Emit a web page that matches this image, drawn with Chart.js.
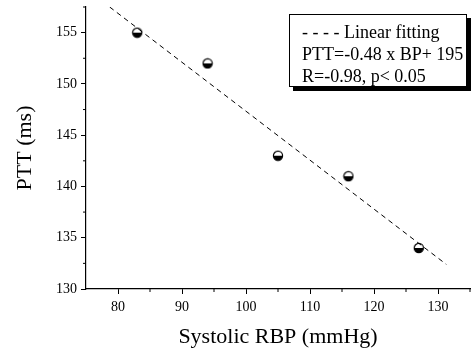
<!DOCTYPE html>
<html>
<head>
<meta charset="utf-8">
<script src="https://cdn.jsdelivr.net/npm/chart.js@4/dist/chart.umd.min.js"></script>
<style>
  html, body { margin: 0; padding: 0; background: #fff; overflow: hidden; }
  #wrap { position: relative; width: 471px; height: 352px; }
  #legendBox {
    position: absolute; left: 289px; top: 14px; width: 178px; height: 73px;
    border: 1px solid #000; background: #fff; box-shadow: 4px 4px 0 #000;
    font-family: 'Liberation Serif', 'Times New Roman', serif; font-size: 18px;
    color: #000; box-sizing: border-box; padding: 6px 0 0 12px; line-height: 22px;
    white-space: nowrap;
  }
</style>
</head>
<body>
<div id="wrap">
  <canvas id="fitChart" width="471" height="352"></canvas>
  <div id="legendBox">
    <div>- - - - Linear fitting</div>
    <div>PTT=-0.48 x BP+ 195</div>
    <div>R=-0.98, p&lt; 0.05</div>
  </div>
</div>
<script>
// measured points
const bpValues = [83, 94, 105, 116, 127];
const pttValues = [155, 152, 143, 141, 134];

// fitted line end points
const fitBp = [78.7, 131.3];
const fitPtt = [157.5, 132.4];

// axis ticks
const xMajorTicks = [80, 90, 100, 110, 120, 130];
const xMinorTicks = [85, 95, 105, 115, 125, 135];
const yMajorTicks = [130, 135, 140, 145, 150, 155];
const yMinorTicks = [132.5, 137.5, 142.5, 147.5, 152.5, 157.5];

const serif = "'Liberation Serif', 'Times New Roman', serif";

// half filled circle marker (white top, black bottom)
function halfMarker() {
    const c = document.createElement('canvas');
    c.width = 12; c.height = 12;
    const g = c.getContext('2d');
    g.beginPath();
    g.arc(6, 6, 4.6, Math.PI, 2 * Math.PI);
    g.fillStyle = '#fff';
    g.fill();
    g.beginPath();
    g.arc(6, 6, 4.6, 0, Math.PI);
    g.fillStyle = '#000';
    g.fill();
    g.beginPath();
    g.arc(6, 6, 4.6, 0, 2 * Math.PI);
    g.lineWidth = 1.2;
    g.strokeStyle = '#000';
    g.stroke();
    return c;
}

// short minor ticks drawn on the library scales
const minorTicks = {
    id: 'minorTicks',
    afterDraw(chart) {
        const ctx = chart.ctx;
        const xs = chart.scales.x, ys = chart.scales.y;
        ctx.save();
        ctx.strokeStyle = '#000';
        ctx.lineWidth = 1;
        xMinorTicks.forEach(v => {
            const px = xs.getPixelForValue(v);
            ctx.beginPath();
            ctx.moveTo(px, xs.top);
            ctx.lineTo(px, xs.top + 3);
            ctx.stroke();
        });
        yMinorTicks.forEach(v => {
            const py = ys.getPixelForValue(v);
            ctx.beginPath();
            ctx.moveTo(ys.right, py);
            ctx.lineTo(ys.right - 3, py);
            ctx.stroke();
        });
        ctx.restore();
    }
};

const marker = halfMarker();

new Chart(document.getElementById('fitChart'), {
    type: 'scatter',
    data: {
        datasets: [{
            label: 'Linear fitting',
            data: fitBp.map((x, i) => ({ x: x, y: fitPtt[i] })),
            showLine: true,
            borderColor: '#000',
            borderWidth: 1,
            borderDash: [5, 4],
            pointRadius: 0,
        }, {
            label: 'PTT',
            data: bpValues.map((x, i) => ({ x: x, y: pttValues[i] })),
            pointStyle: marker,
            pointRadius: 5,
        }],
    },
    options: {
        responsive: false,
        animation: false,
        layout: { autoPadding: false, padding: { top: 7, right: 1 } },
        plugins: { legend: { display: false }, tooltip: { enabled: false } },
        scales: {
            x: {
                type: 'linear',
                min: 75,
                max: 135,
                afterBuildTicks: s => { s.ticks = xMajorTicks.map(v => ({ value: v })); },
                afterFit: s => { s.height = 63; s.paddingLeft = 0; s.paddingRight = 0; },
                grid: { drawOnChartArea: false, tickLength: 5, color: '#000', tickColor: '#000' },
                border: { color: '#000', width: 1.2 },
                ticks: { color: '#000', font: { family: serif, size: 14 }, padding: 5, maxRotation: 0 },
                title: { display: true, text: 'Systolic RBP (mmHg)', color: '#000',
                         font: { family: serif, size: 22 }, padding: { bottom: 2 } },
            },
            y: {
                type: 'linear',
                min: 130,
                max: 157.5,
                afterBuildTicks: s => { s.ticks = yMajorTicks.map(v => ({ value: v })); },
                afterFit: s => { s.width = 86; s.paddingTop = 0; s.paddingBottom = 0; },
                grid: { drawOnChartArea: false, tickLength: 5, color: '#000', tickColor: '#000' },
                border: { color: '#000', width: 1.2 },
                ticks: { color: '#000', font: { family: serif, size: 14 }, padding: 4 },
                title: { display: true, text: 'PTT (ms)', color: '#000',
                         font: { family: serif, size: 22 }, padding: { top: 12 } },
            },
        },
    },
    plugins: [minorTicks],
});
</script>
</body>
</html>
